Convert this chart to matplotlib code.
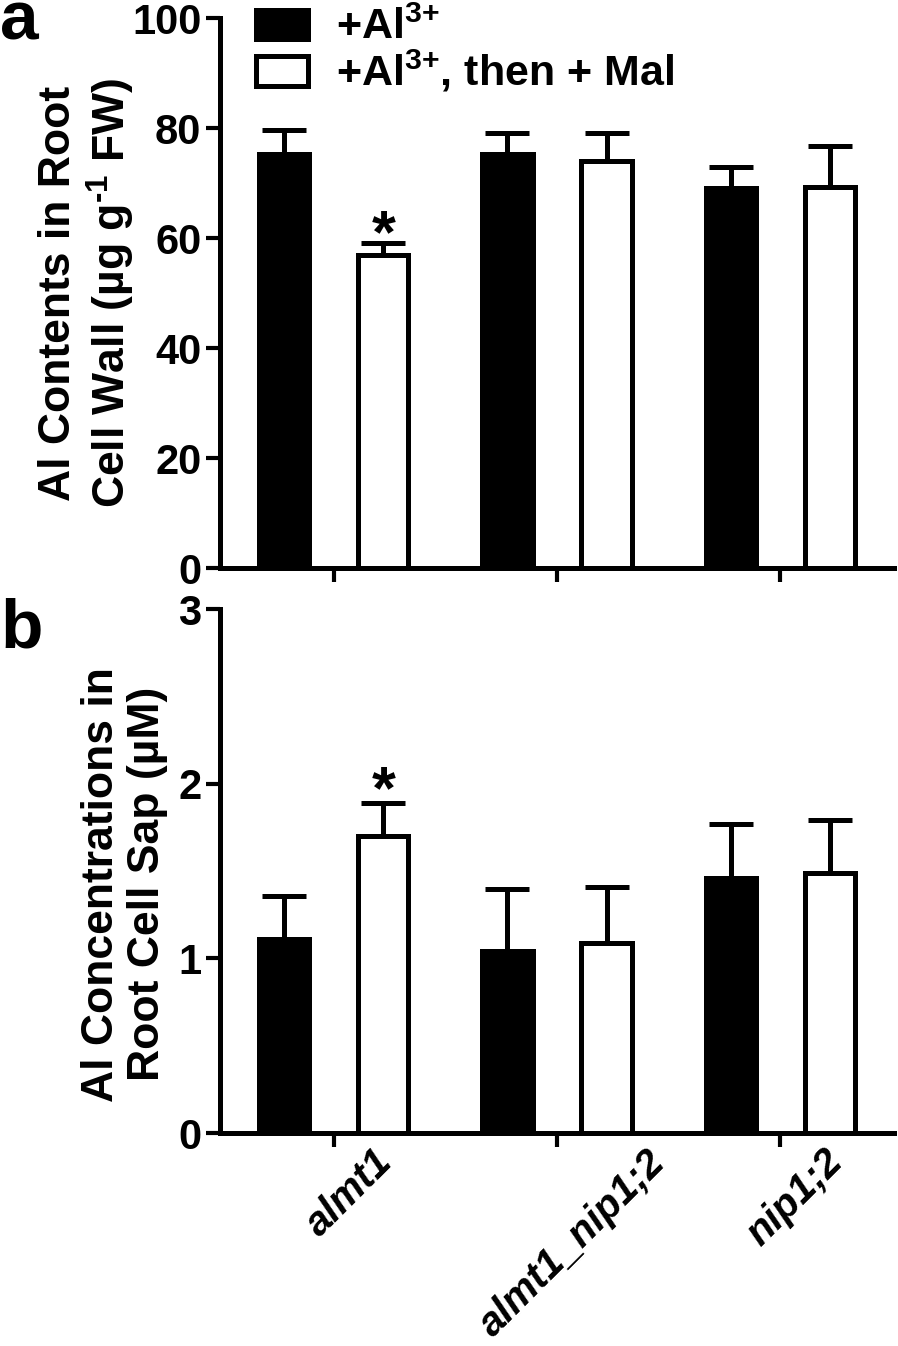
import numpy as np
import matplotlib
matplotlib.use("Agg")
import matplotlib.pyplot as plt
import matplotlib.transforms as mtransforms
from matplotlib.patches import Patch

plt.rcParams['font.family'] = ['Liberation Sans', 'DejaVu Sans']
plt.rcParams['font.weight'] = 'bold'
plt.rcParams['mathtext.fontset'] = 'custom'
plt.rcParams['mathtext.rm'] = 'Liberation Sans:bold'
plt.rcParams['mathtext.bf'] = 'Liberation Sans:bold'
plt.rcParams['mathtext.it'] = 'Liberation Sans:bold:italic'

# --- adatok ---
genotypes = ["almt1", "almt1_nip1;2", "nip1;2"]
series_labels = ["+Al$^{3{+}}$", "+Al$^{3{+}}$, then + Mal"]

# a) sejtfal Al tartalom [ug g-1 FW]
wall_al = [75.3, 75.3, 69.1]
wall_al_err = [4.3, 3.8, 3.8]
wall_mal = [56.9, 74.0, 69.3]
wall_mal_err = [2.2, 5.1, 7.4]

# b) sejtnedv Al koncentráció [uM]
sap_al = [1.11, 1.04, 1.46]
sap_al_err = [0.25, 0.36, 0.31]
sap_mal = [1.70, 1.09, 1.49]
sap_mal_err = [0.19, 0.32, 0.30]

LW = 3.6
x = np.arange(len(genotypes))
off = 0.222
bw = 0.225

fig = plt.figure(figsize=(8.98, 13.46), dpi=100)
ax_a = fig.add_axes([0.245, 0.578, 0.7506, 0.4086])
ax_b = fig.add_axes([0.245, 0.1582, 0.7506, 0.3893])


def draw_panel(ax, v1, e1, v2, e2, star_y):
    ax.bar(x - off, v1, bw, color='black', edgecolor='black', linewidth=LW, zorder=2)
    ax.bar(x + off, v2, bw, color='white', edgecolor='black', linewidth=LW, zorder=2)
    ax.errorbar(x - off, v1, yerr=[np.zeros(len(v1)), e1], fmt='none', ecolor='black',
                elinewidth=LW, capsize=16, capthick=LW, zorder=3)
    ax.errorbar(x + off, v2, yerr=[np.zeros(len(v2)), e2], fmt='none', ecolor='black',
                elinewidth=LW, capsize=16, capthick=LW, zorder=3)
    # szignifikancia jel
    ax.text(x[0] + off, star_y, "*", ha='center', va='center', fontsize=44, fontweight='bold')

    ax.set_xlim(-0.51, 2.51)
    ax.spines['top'].set_visible(False)
    ax.spines['right'].set_visible(False)
    ax.spines['left'].set_linewidth(LW)
    ax.spines['bottom'].set_linewidth(LW)
    ax.tick_params(axis='both', width=3, length=10, labelsize=30, direction='out')
    ax.set_xticks(x)


draw_panel(ax_a, wall_al, wall_al_err, wall_mal, wall_mal_err, 60.3)
ax_a.set_ylim(0, 100)
ax_a.set_yticks([0, 20, 40, 60, 80, 100])
ax_a.set_xticklabels([])
ax_a.set_ylabel("Al Contents in Root\nCell Wall (µg g$^{\\text{-}1}$ FW)", fontsize=32,
                fontweight='bold', linespacing=1.15)
ax_a.yaxis.set_label_coords(-0.123, 0.5)

draw_panel(ax_b, sap_al, sap_al_err, sap_mal, sap_mal_err, 1.95)
ax_b.set_ylim(0, 3)
ax_b.set_yticks([0, 1, 2, 3])
ax_b.set_xticklabels(genotypes, rotation=45, fontstyle='italic', fontsize=29,
                     fontweight='bold', ha='center')
shift = mtransforms.ScaledTranslation(0.15, 0.09, fig.dpi_scale_trans)
for lbl in ax_b.get_xticklabels():
    lbl.set_transform(lbl.get_transform() + shift)
ax_b.set_ylabel("Al Concentrations in\nRoot Cell Sap (µM)", fontsize=32,
                fontweight='bold', linespacing=1.15)
ax_b.yaxis.set_label_coords(-0.077, 0.475)

# jelmagyarázat
handles = [Patch(facecolor='black', edgecolor='black', linewidth=LW),
           Patch(facecolor='white', edgecolor='black', linewidth=LW)]
fig.legend(handles, series_labels, loc='upper left', bbox_to_anchor=(0.285, 0.994),
           frameon=False, fontsize=31, handlelength=1.2, handleheight=0.68,
           handletextpad=0.65, labelspacing=0.0, borderpad=0, borderaxespad=0)

# panel betűk
fig.text(0.0, 0.971, "a", fontsize=50, fontweight='bold', va='baseline', ha='left')
fig.text(0.0, 0.519, "b", fontsize=50, fontweight='bold', va='baseline', ha='left')

plt.savefig("out.png", dpi=100)
